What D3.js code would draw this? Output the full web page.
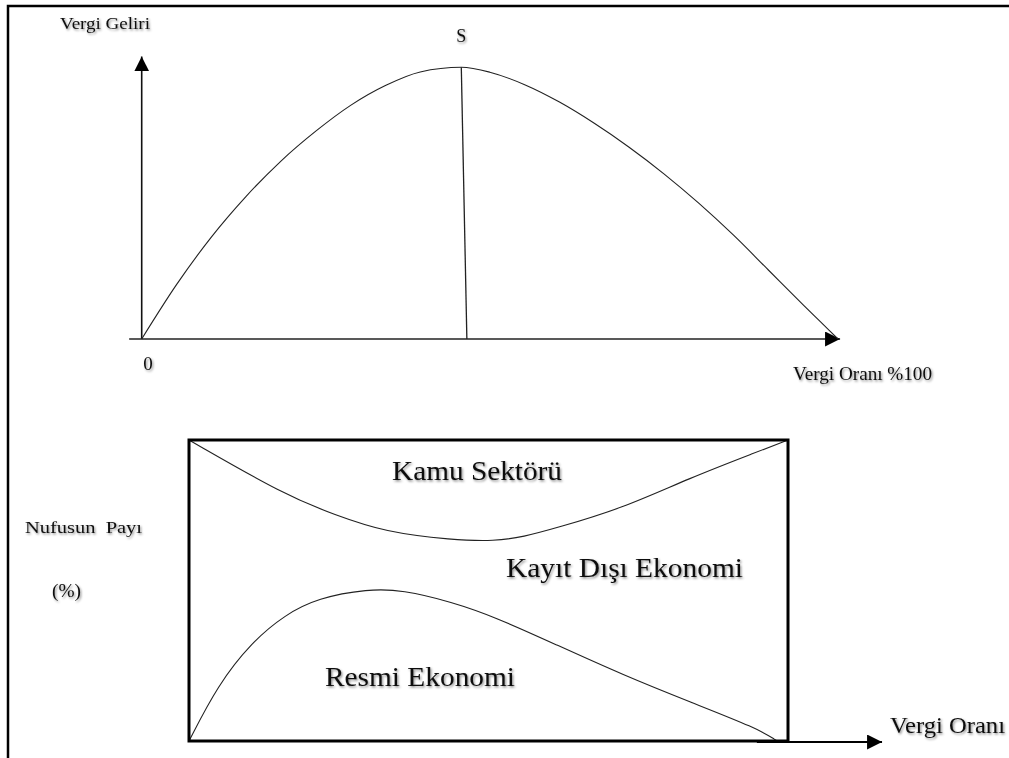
<!DOCTYPE html>
<html>
<head>
<meta charset="utf-8">
<script src="https://cdn.jsdelivr.net/npm/d3@7"></script>
<style>
  html, body { margin: 0; padding: 0; background: #fff; }
  svg text { font-family: "Liberation Serif", "Times New Roman", serif; fill: #111; }
</style>
</head>
<body>
<div id="chart"></div>
<script>
// Laffer curve: tax rate (%) vs tax revenue (index, peak = 100)
var lafferRate    = [0, 5, 10, 15, 20, 25, 30, 35, 40, 45.9, 50, 55, 60, 65, 70, 75, 80, 85, 90, 95, 97.5, 100];
var lafferRevenue = [0, 20, 37.5, 52.5, 65.5, 76.5, 86, 93.3, 98.3, 100, 98.2, 93.6, 87.2, 79.4, 70.6, 60.8, 50, 38.2, 25.4, 12.6, 6.3, 0];
// the S line (top / bottom)
var sLineRate    = [45.9, 46.7];
var sLineRevenue = [100, 0];

// population shares (%) vs tax rate (%)
var publicRate   = [0, 16.0, 24.4, 32.7, 43.9, 51.1, 55.8, 61.4, 72.5, 83.6, 94.8, 100];
var publicBound  = [100, 81.7, 75.1, 69.4, 66.8, 66.4, 67.8, 70.8, 77.4, 87.4, 96.0, 100];
var formalRate   = [0, 4.8, 10.5, 16.0, 21.5, 29.9, 35.6, 43.9, 51.1, 61.4, 72.5, 83.6, 94.8, 98.2];
var formalShare  = [0, 18.6, 32.9, 41.9, 47.5, 50.5, 50.2, 46.2, 41.2, 31.9, 21.9, 13.0, 4.3, 0];

var width = 1009, height = 758;

var svg = d3.select("#chart").append("svg")
  .attr("width", width)
  .attr("height", height);

var defs = svg.append("defs");
defs.append("marker")
  .attr("id", "arrow")
  .attr("markerUnits", "userSpaceOnUse")
  .attr("markerWidth", 16).attr("markerHeight", 16)
  .attr("refX", 15).attr("refY", 7.5)
  .attr("orient", "auto")
  .append("path")
  .attr("d", "M0,0 L15,7.5 L0,15 Z")
  .attr("fill", "#000");

var shadow = defs.append("filter").attr("id", "shadow")
  .attr("x", "-10%").attr("y", "-30%").attr("width", "130%").attr("height", "170%");
shadow.append("feDropShadow")
  .attr("dx", 1.2).attr("dy", 1.5).attr("stdDeviation", 1.2)
  .attr("flood-color", "#000").attr("flood-opacity", 0.45);

// page frame (left + top rule)
svg.append("path")
  .attr("d", "M8,758 L8,6 L1009,6")
  .attr("fill", "none").attr("stroke", "#000").attr("stroke-width", 2.5);

//**********************
//     LAFFER CURVE
//**********************
var xTop = d3.scaleLinear().domain([0, 100]).range([141.7, 838]);
var yTop = d3.scaleLinear().domain([0, 100]).range([339, 67.3]);

// axes
svg.append("line")
  .attr("x1", xTop(0)).attr("y1", yTop(0))
  .attr("x2", xTop(0)).attr("y2", yTop(104))
  .attr("stroke", "#111").attr("stroke-width", 1.6)
  .attr("marker-end", "url(#arrow)");
svg.append("line")
  .attr("x1", xTop(-1.8)).attr("y1", yTop(0))
  .attr("x2", xTop(100.3)).attr("y2", yTop(0))
  .attr("stroke", "#222").attr("stroke-width", 1.6)
  .attr("marker-end", "url(#arrow)");

var lafferLine = d3.line()
  .x(function (d, i) { return xTop(lafferRate[i]); })
  .y(function (d) { return yTop(d); })
  .curve(d3.curveMonotoneX);

svg.append("path")
  .datum(lafferRevenue)
  .attr("d", lafferLine)
  .attr("fill", "none").attr("stroke", "#222").attr("stroke-width", 1.1);

svg.append("line")
  .attr("x1", xTop(sLineRate[0])).attr("y1", yTop(sLineRevenue[0]))
  .attr("x2", xTop(sLineRate[1])).attr("y2", yTop(sLineRevenue[1]))
  .attr("stroke", "#222").attr("stroke-width", 1.3);

// labels
var txt = svg.append("g").attr("filter", "url(#shadow)");
txt.append("text").attr("x", 60).attr("y", 29)
  .attr("font-size", 17).attr("textLength", 90).attr("lengthAdjust", "spacingAndGlyphs")
  .text("Vergi Geliri");
txt.append("text").attr("x", xTop(sLineRate[0]) - 5).attr("y", 42)
  .attr("font-size", 18).text("S");
txt.append("text").attr("x", xTop(0) + 1.5).attr("y", 370)
  .attr("font-size", 19).text("0");
txt.append("text").attr("x", 793).attr("y", 380)
  .attr("font-size", 18).attr("textLength", 139).attr("lengthAdjust", "spacingAndGlyphs")
  .text("Vergi Oranı %100");

//**********************
//   POPULATION SHARES
//**********************
var xBot = d3.scaleLinear().domain([0, 100]).range([189, 788]);
var yBot = d3.scaleLinear().domain([0, 100]).range([741, 440]);

var areaLine = d3.line()
  .x(function (d) { return xBot(d[0]); })
  .y(function (d) { return yBot(d[1]); })
  .curve(d3.curveBasis);

svg.append("path")
  .datum(d3.zip(publicRate, publicBound))
  .attr("d", areaLine)
  .attr("fill", "none").attr("stroke", "#222").attr("stroke-width", 1.1);

svg.append("path")
  .datum(d3.zip(formalRate, formalShare))
  .attr("d", areaLine)
  .attr("fill", "none").attr("stroke", "#222").attr("stroke-width", 1.1);

svg.append("rect")
  .attr("x", xBot(0)).attr("y", yBot(100))
  .attr("width", xBot(100) - xBot(0)).attr("height", yBot(0) - yBot(100))
  .attr("fill", "none").attr("stroke", "#000").attr("stroke-width", 3);

// tax rate arrow
svg.append("line")
  .attr("x1", xBot(94.8)).attr("y1", yBot(0) + 1)
  .attr("x2", xBot(115.7)).attr("y2", yBot(0) + 1)
  .attr("stroke", "#000").attr("stroke-width", 2)
  .attr("marker-end", "url(#arrow)");

txt.append("text").attr("x", 392).attr("y", 480)
  .attr("font-size", 28).attr("textLength", 170).attr("lengthAdjust", "spacingAndGlyphs")
  .text("Kamu Sektörü");
txt.append("text").attr("x", 506).attr("y", 577)
  .attr("font-size", 28).attr("textLength", 237).attr("lengthAdjust", "spacingAndGlyphs")
  .text("Kayıt Dışı Ekonomi");
txt.append("text").attr("x", 325).attr("y", 686)
  .attr("font-size", 28).attr("textLength", 190).attr("lengthAdjust", "spacingAndGlyphs")
  .text("Resmi Ekonomi");
txt.append("text").attr("x", 25).attr("y", 533)
  .attr("font-size", 17).style("white-space", "pre")
  .attr("textLength", 117).attr("lengthAdjust", "spacingAndGlyphs")
  .text("Nufusun  Payı");
txt.append("text").attr("x", 52).attr("y", 597)
  .attr("font-size", 18).attr("textLength", 29).attr("lengthAdjust", "spacingAndGlyphs")
  .text("(%)");
txt.append("text").attr("x", 890).attr("y", 733)
  .attr("font-size", 23).attr("textLength", 115).attr("lengthAdjust", "spacingAndGlyphs")
  .text("Vergi Oranı");
</script>
</body>
</html>
